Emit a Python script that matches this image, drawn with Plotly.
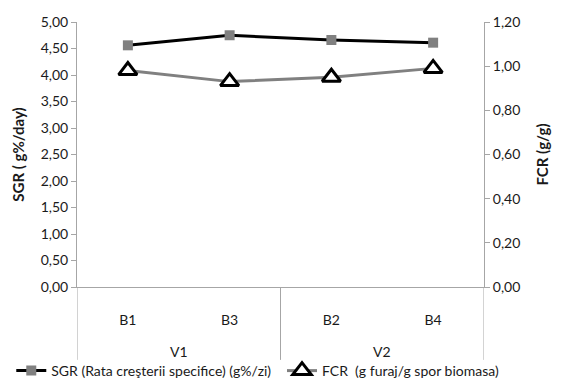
import plotly.graph_objects as go

# Experimental variants and basins
variants = ["V1", "V2"]
variant_centers = [0.5, 2.5]
variant_edges = [-0.5, 1.5, 3.5]
basins = ["B1", "B3", "B2", "B4"]

# Specific growth rate (g%/day) and feed conversion ratio (g/g)
sgr = [4.56, 4.75, 4.66, 4.61]
fcr = [0.98, 0.93, 0.95, 0.99]

left_ticks = [0, 0.5, 1.0, 1.5, 2.0, 2.5, 3.0, 3.5, 4.0, 4.5, 5.0]
right_ticks = [0, 0.2, 0.4, 0.6, 0.8, 1.0, 1.2]

FONT = "Lato, Carlito, Calibri, sans-serif"
AXIS_GRAY = "#a6a6a6"
TEXT = "#1a1a1a"

fig = go.Figure()

fig.add_trace(go.Scatter(
    x=basins, y=sgr,
    name="SGR (Rata creşterii specifice) (g%/zi)",
    mode="lines+markers",
    line=dict(color="black", width=3),
    marker=dict(symbol="square", size=10, color="#808080"),
    yaxis="y", legend="legend",
))

fig.add_trace(go.Scatter(
    x=basins, y=fcr,
    name="FCR  (g furaj/g spor biomasa)",
    mode="lines+markers",
    line=dict(color="#808080", width=3),
    marker=dict(symbol="triangle-up", size=16, color="white",
                line=dict(color="black", width=3)),
    yaxis="y2", legend="legend2",
))

# Group separators below the category axis
for xe in variant_edges:
    fig.add_shape(type="line", xref="x", yref="paper",
                  x0=xe, x1=xe, y0=0, y1=-0.275,
                  line=dict(color=AXIS_GRAY, width=1))

# Variant labels
for name, xc in zip(variants, variant_centers):
    fig.add_annotation(x=xc, xref="x", y=-0.245, yref="paper",
                       text=name, showarrow=False, yanchor="middle",
                       font=dict(family=FONT, size=14, color=TEXT))

legend_common = dict(orientation="h", xanchor="left",
                     yref="container", y=0.0, yanchor="bottom",
                     xref="container", font=dict(size=14),
                     bgcolor="rgba(0,0,0,0)")

fig.update_layout(
    width=564, height=387,
    margin=dict(l=77, r=80, t=22, b=100, autoexpand=False),
    paper_bgcolor="white", plot_bgcolor="white",
    separators=", ",
    font=dict(family=FONT, size=14, color=TEXT),
    showlegend=True,
    legend=dict(x=0.02, **legend_common),
    legend2=dict(x=0.5, **legend_common),
    xaxis=dict(
        type="category", range=[-0.5, 3.5],
        showline=True, linecolor=AXIS_GRAY, linewidth=1,
        ticks="", showgrid=False, zeroline=False,
        ticklabelstandoff=20,
    ),
    yaxis=dict(
        range=[0, 5.0], tickvals=left_ticks, tickformat=".2f",
        showline=True, linecolor=AXIS_GRAY, linewidth=1,
        ticks="outside", ticklen=5, tickcolor=AXIS_GRAY,
        showgrid=False, zeroline=False,
        title=dict(text="<b>SGR ( g%/day)</b>", font=dict(size=15), standoff=12),
    ),
    yaxis2=dict(
        range=[0, 1.2], tickvals=right_ticks, tickformat=".2f",
        overlaying="y", side="right",
        showline=True, linecolor=AXIS_GRAY, linewidth=1,
        ticks="outside", ticklen=5, tickcolor=AXIS_GRAY,
        showgrid=False, zeroline=False,
        title=dict(text="<b>FCR (g/g)</b>", font=dict(size=15), standoff=18),
    ),
)

fig.write_html("out.html")
